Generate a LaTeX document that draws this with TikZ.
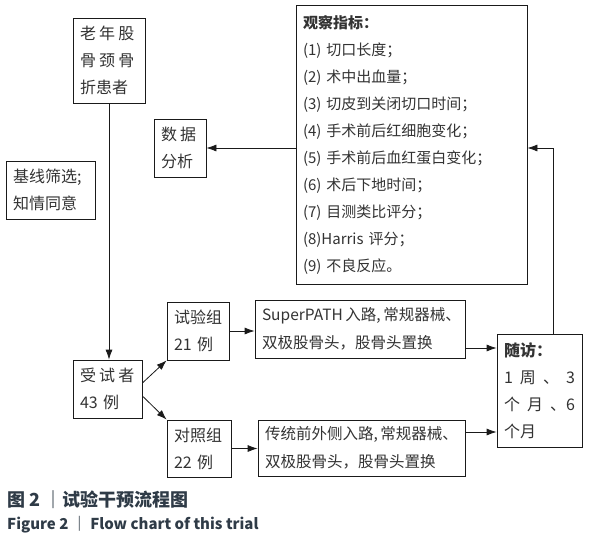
\documentclass[tikz,border=0pt]{standalone}
\usepackage{fontspec}
\setmainfont{Noto Sans CJK SC}
\usepackage{tikz}
\usetikzlibrary{arrows.meta,positioning}
\definecolor{fcInk}{HTML}{1A1A1A}
\definecolor{fcText}{HTML}{333333}
\definecolor{fcCap}{HTML}{2F3B47}
\newcommand{\cjkgap}{\hspace{0.2em}}
\tikzset{
  fc diagram/.style={x=1pt, y=-1pt, font=\fontsize{16}{27}\selectfont,
    text=fcText, line join=miter},
  fc box/.style={draw=fcInk, fill=white, line width=0.8pt,
    align=left, inner xsep=7pt, inner ysep=0pt, anchor=center},
  fc small/.style={font=\fontsize{15}{27}\selectfont},
  fc route/.style={font=\fontsize{15.5}{28}\selectfont},
  fc arrow/.style={-{Latex[length=10pt,width=7pt]}, draw=fcInk, line width=0.8pt},
  fc caption/.style={anchor=west, inner sep=0pt, text=fcCap}
}
\begin{document}
\begin{tikzpicture}[fc diagram]
\useasboundingbox (0,0) rectangle (591,538);
% boxes
\node[fc box, text width=58pt, minimum height=85pt] (elder) at (109,60.5)
  {老\cjkgap 年\cjkgap 股\\骨\cjkgap 颈\cjkgap 骨\\折患者};
\node[fc box, text width=38pt, minimum height=58pt] (anal) at (180,148)
  {数\cjkgap 据\\分析};
\node[fc box, text width=75pt, minimum height=58pt] (base) at (50.5,190)
  {基线筛选;\\知情同意};
\node[fc box, fc small, text width=217pt, minimum height=279pt] (obs) at (411.5,144.5)
  {\textbf{观察指标：}\\(1) 切口长度；\\(2) 术中出血量；\\(3) 切皮到关闭切口时间；\\
   (4) 手术前后红细胞变化；\\(5) 手术前后血红蛋白变化；\\(6) 术后下地时间；\\
   (7) 目测类比评分；\\(8)Harris 评分；\\(9) 不良反应。};
\node[fc box, text width=55pt, minimum height=58pt] (subj) at (107.5,389)
  {受\cjkgap 试\cjkgap 者\\43 例};
\node[fc box, text width=48pt, minimum height=58pt] (trial) at (198,331)
  {试验组\\21 例};
\node[fc box, text width=50pt, minimum height=57pt] (ctrl) at (199,448.5)
  {对照组\\22 例};
\node[fc box, fc route, text width=196pt, minimum height=58pt] (sup) at (360,329)
  {SuperPATH\,入路,\,常规器械、\\双极股骨头，股骨头置换};
\node[fc box, fc route, text width=193pt, minimum height=56pt] (trad) at (361.5,448)
  {传统前外侧入路,\,常规器械、\\双极股骨头，股骨头置换};
\node[fc box, text width=71pt, minimum height=113pt] (follow) at (539.5,390.5)
  {\textbf{随访：}\\1\hfill 周\hfill 、\hfill 3\\个\hfill 月\hfill 、6\\个月};
% connectors
\coordinate (supout) at ([yshift=-19pt]sup.east);
\coordinate (tradout) at ([yshift=16pt]trad.east);
\coordinate (followup) at ([xshift=13.5pt]follow.north);
\draw[fc arrow] (elder.south) -- (elder.south |- subj.north);
\draw[fc arrow] (obs.west |- anal.east) -- (anal.east);
\draw[fc arrow] ([yshift=6pt]subj.east) -- (trial.south west);
\draw[fc arrow] ([yshift=-7pt]subj.east) -- (ctrl.north west);
\draw[fc arrow] (trial.east) -- (sup.west |- trial.east);
\draw[fc arrow] (ctrl.east) -- (trad.west |- ctrl.east);
\draw[fc arrow] (supout) -- (supout -| follow.west);
\draw[fc arrow] (tradout) -- (tradout -| follow.west);
\draw[fc arrow] (followup) |- (obs.east |- anal.east);
% caption
\node[fc caption, font=\fontsize{18}{21}\selectfont\bfseries] (capcn) at (7,500)
  {图 2 ｜试验干预流程图};
\node[fc caption, font=\fontsize{15}{18}\selectfont\bfseries] (capen) at (7,525)
  {Figure 2 ｜ Flow chart of this trial};
\end{tikzpicture}
\end{document}
